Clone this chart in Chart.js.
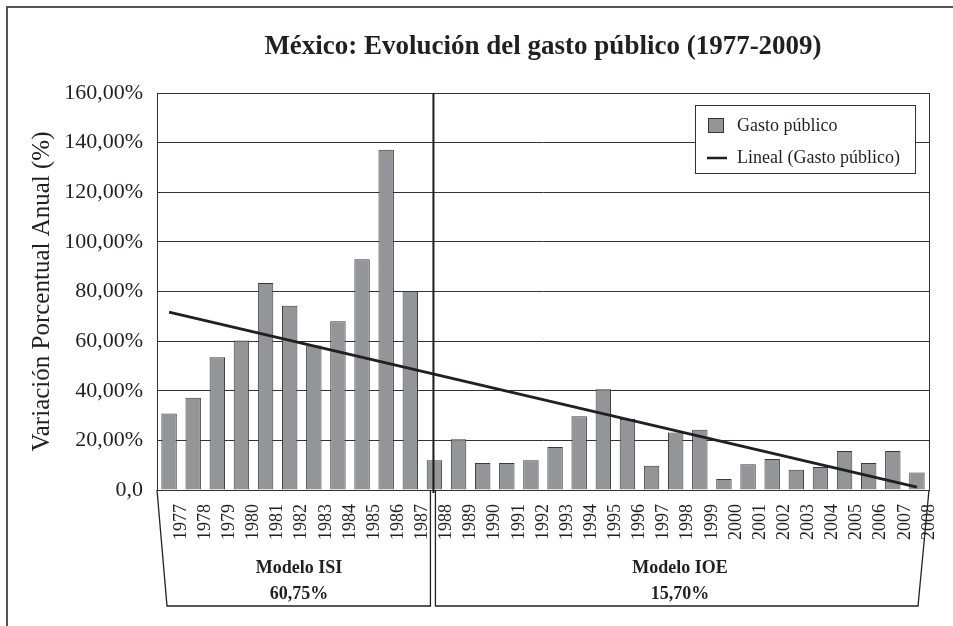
<!DOCTYPE html>
<html lang="es">
<head>
    <meta charset="UTF-8">
    <title>México: Evolución del gasto público (1977-2009)</title>
    <style>
        body {
            margin: 0;
            padding: 0;
            background-color: #fff;
        }
        #chartContainer {
            width: 953px;
            height: 626px;
        }
    </style>
    <script src="https://cdn.jsdelivr.net/npm/chart.js"></script>
</head>
<body>
    <div id="chartContainer">
        <canvas id="myChart"></canvas>
    </div>

    <script>
        // Datos
        const anios = ['1977', '1978', '1979', '1980', '1981', '1982', '1983', '1984', '1985', '1986', '1987',
            '1988', '1989', '1990', '1991', '1992', '1993', '1994', '1995', '1996', '1997', '1998', '1999',
            '2000', '2001', '2002', '2003', '2004', '2005', '2006', '2007', '2008'];
        const gastoPublico = [30.8, 37.2, 53.5, 60.3, 83.4, 74.3, 58.2, 68.0, 93.0, 137.1, 80.2,
            12.0, 20.5, 10.9, 10.9, 12.0, 17.3, 29.7, 40.6, 28.6, 9.8, 23.2, 24.3,
            4.4, 10.4, 12.5, 8.2, 9.3, 15.7, 10.9, 15.7, 7.1];
        // Tendencia lineal: sólo los extremos
        const tendenciaExtremos = [71.7, 1.2];
        const etiquetasY = ['0,0', '20,00%', '40,00%', '60,00%', '80,00%', '100,00%', '120,00%', '140,00%', '160,00%'];
        const modelos = ['Modelo ISI', 'Modelo IOE'];
        const promedios = ['60,75%', '15,70%'];
        const indiceCorte = 11; // posición de la línea vertical entre modelos

        const serif = '"Liberation Serif", "DejaVu Serif", serif';
        const tinta = '#231f20';

        const tendencia = anios.map((a, i) => {
            if (i === 0) return tendenciaExtremos[0];
            if (i === anios.length - 1) return tendenciaExtremos[1];
            return null;
        });

        // Dibujos extra: marco, título, línea divisoria, leyenda y cajas inferiores
        const extras = {
            id: 'extras',
            beforeDraw(chart) {
                const ctx = chart.ctx;
                ctx.save();
                ctx.fillStyle = '#fff';
                ctx.fillRect(0, 0, chart.width, chart.height);
                ctx.restore();
            },
            afterDraw(chart) {
                const ctx = chart.ctx;
                const area = chart.chartArea;
                const x = chart.scales.x;
                ctx.save();

                // marco exterior
                ctx.strokeStyle = '#555';
                ctx.lineWidth = 2;
                ctx.beginPath();
                ctx.moveTo(7, chart.height);
                ctx.lineTo(7, 7);
                ctx.lineTo(chart.width, 7);
                ctx.stroke();

                // borde del área
                ctx.strokeStyle = '#333';
                ctx.lineWidth = 1;
                ctx.strokeRect(area.left + 0.5, area.top + 0.5, area.right - area.left, area.bottom - area.top);

                // título
                ctx.fillStyle = tinta;
                ctx.font = 'bold 27px ' + serif;
                ctx.textAlign = 'center';
                ctx.textBaseline = 'middle';
                ctx.fillText('México: Evolución del gasto público (1977-2009)', (area.left + area.right) / 2, 47);

                // línea divisoria
                const corte = x.getPixelForValue(indiceCorte) - 1;
                ctx.strokeStyle = '#1a1a1a';
                ctx.lineWidth = 2;
                ctx.beginPath();
                ctx.moveTo(corte, area.top);
                ctx.lineTo(corte, area.bottom + 3);
                ctx.stroke();

                // cajas inferiores
                const abajo = 606;
                ctx.strokeStyle = '#222';
                ctx.lineWidth = 1.3;
                ctx.beginPath();
                ctx.moveTo(area.left, area.bottom);
                ctx.lineTo(area.left + 10, abajo);
                ctx.lineTo(corte - 3, abajo);
                ctx.lineTo(corte - 3, area.bottom);
                ctx.stroke();
                ctx.beginPath();
                ctx.moveTo(corte + 2, area.bottom);
                ctx.lineTo(corte + 2, abajo);
                ctx.lineTo(area.right - 11, abajo);
                ctx.lineTo(area.right, area.bottom);
                ctx.stroke();

                ctx.font = 'bold 18px ' + serif;
                ctx.fillStyle = tinta;
                const centros = [299, 680];
                modelos.forEach((m, i) => {
                    ctx.fillText(m, centros[i], 568);
                    ctx.fillText(promedios[i], centros[i], 594);
                });

                // leyenda
                ctx.fillStyle = '#fff';
                ctx.fillRect(695, 105, 220, 68);
                ctx.strokeStyle = '#333';
                ctx.lineWidth = 1;
                ctx.strokeRect(695.5, 105.5, 220, 68);
                ctx.fillStyle = '#939598';
                ctx.fillRect(708, 118, 16, 15);
                ctx.strokeRect(708.5, 118.5, 15, 14);
                ctx.strokeStyle = tinta;
                ctx.lineWidth = 2.5;
                ctx.beginPath();
                ctx.moveTo(707, 158);
                ctx.lineTo(727, 158);
                ctx.stroke();
                ctx.fillStyle = tinta;
                ctx.font = '18px ' + serif;
                ctx.textAlign = 'left';
                ctx.fillText('Gasto público', 737, 126);
                ctx.fillText('Lineal (Gasto público)', 737, 158);

                ctx.restore();
            }
        };

        const ctx = document.getElementById('myChart').getContext('2d');
        const myChart = new Chart(ctx, {
            data: {
                labels: anios,
                datasets: [{
                    type: 'line',
                    label: 'Lineal (Gasto público)',
                    data: tendencia,
                    spanGaps: true,
                    borderColor: tinta,
                    borderWidth: 2.8,
                    pointRadius: 0,
                    order: 0
                }, {
                    type: 'bar',
                    label: 'Gasto público',
                    data: gastoPublico,
                    backgroundColor: '#939598',
                    borderColor: '#3a3a3a',
                    borderWidth: 1,
                    categoryPercentage: 1,
                    barPercentage: 0.64,
                    order: 1
                }]
            },
            options: {
                responsive: true,
                maintainAspectRatio: false,
                animation: false,
                layout: {
                    padding: { top: 93, right: 24, left: 0, bottom: 0 }
                },
                plugins: {
                    legend: { display: false },
                    title: { display: false },
                    tooltip: { enabled: false }
                },
                scales: {
                    x: {
                        grid: { display: false, drawTicks: false },
                        border: { display: true, color: '#333', width: 1 },
                        ticks: {
                            color: tinta,
                            font: { family: serif, size: 18 },
                            minRotation: 90,
                            maxRotation: 90,
                            autoSkip: false,
                            padding: 14,
                            labelOffset: 12
                        },
                        afterFit(scale) { scale.height = 136; }
                    },
                    y: {
                        min: 0,
                        max: 160,
                        grid: { color: '#333', lineWidth: 1, drawTicks: false },
                        border: { display: true, color: '#333', width: 1 },
                        ticks: {
                            stepSize: 20,
                            color: tinta,
                            padding: 14,
                            font: { family: serif, size: 22 },
                            callback: (v, i) => etiquetasY[i]
                        },
                        title: {
                            display: true,
                            text: 'Variación Porcentual Anual (%)',
                            color: tinta,
                            font: { family: serif, size: 25 },
                            padding: { top: 27, bottom: 0 }
                        },
                        afterFit(scale) { scale.width = 157; }
                    }
                }
            },
            plugins: [extras]
        });
    </script>
</body>
</html>
